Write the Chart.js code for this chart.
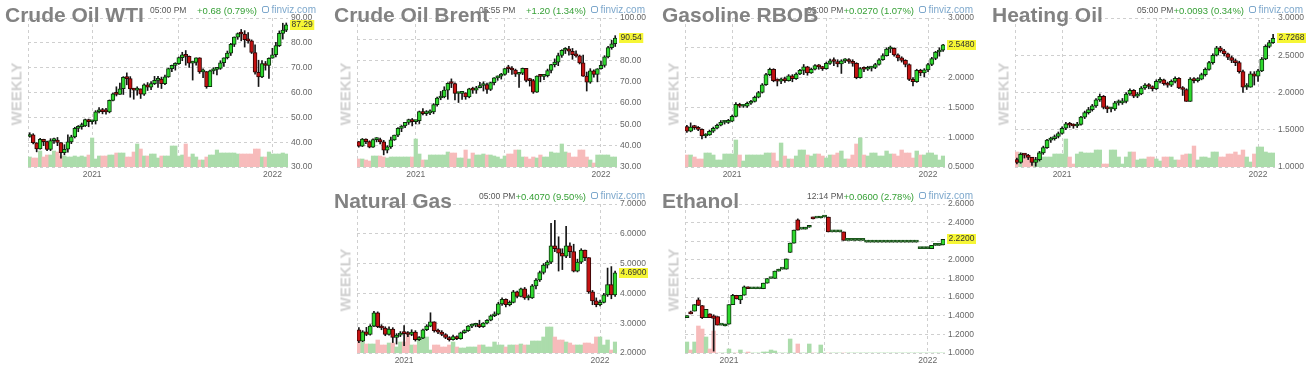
<!DOCTYPE html>
<html>
<head>
<meta charset="utf-8">
<title>Futures - weekly</title>
<script src="https://cdn.jsdelivr.net/npm/chart.js@4.4.1/dist/chart.umd.min.js"></script>
<style>
  body { margin: 0; background: #fff; }
  #board { position: relative; width: 1311px; height: 370px; overflow: hidden; font-family: Arial, "Liberation Sans", sans-serif; }
  .panel { position: absolute; width: 326px; height: 184px; }
  .panel canvas { position: absolute; left: 0; top: 0; }
  .ttl { position: absolute; left: 5px; top: 4px; font-size: 21px; line-height: 21px; font-weight: bold; color: #828282; white-space: nowrap; z-index: 3; }
  .tm { position: absolute; left: 150px; top: 5px; font-size: 8.5px; line-height: 10px; color: #555; white-space: nowrap; z-index: 2; }
  .chg { position: absolute; right: 69px; top: 5px; font-size: 9.5px; line-height: 11px; color: #36a036; white-space: nowrap; z-index: 2; }
  .fv { position: absolute; right: 10px; top: 4px; font-size: 10px; line-height: 11px; color: #7ea8cc; white-space: nowrap; z-index: 2; }
  .fv i { display: inline-block; width: 5px; height: 5px; border: 1px solid #7ea8cc; border-radius: 2px; margin-right: 3px; }
  .wk { position: absolute; left: 16px; top: 94px; transform: translate(-50%, -50%) rotate(-90deg); font-size: 15px; font-weight: bold; color: #d0d0d0; white-space: nowrap; }
</style>
</head>
<body>
<div id="board"></div>
<script>
// weekly candles, last week starts 2022-01-24
const lastWeek = '2022-01-24';
const yearTicks = { '2020-12-28': '2021', '2021-06-21': '', '2021-12-27': '2022' };

// Crude Oil WTI
const wtiOpen0 = 42.3;
const wtiClose = [42.97, 39.77, 37.33, 41.11, 40.25, 37.05, 40.60, 40.88, 39.85, 35.79,
  37.14, 40.13, 42.15, 45.53, 46.26, 46.57, 49.10, 48.23, 48.52, 52.24,
  52.36, 52.27, 52.20, 56.85, 59.47, 59.24, 61.50, 66.09, 65.61, 61.42,
  60.97, 61.45, 59.32, 63.13, 62.14, 63.58, 64.90, 65.37, 63.58, 66.32,
  69.62, 70.91, 71.64, 74.05, 75.16, 74.56, 71.81, 72.07, 73.95, 68.28,
  68.44, 62.32, 68.74, 69.29, 69.72, 71.97, 73.98, 75.88, 79.35, 82.28,
  83.76, 83.57, 81.27, 80.79, 76.10, 68.15, 66.26, 71.67, 70.86, 73.79,
  75.21, 78.90, 83.82, 85.14, 87.29];
const wtiHigh = [43.8, 43.4, 38.5, 41.5, 41.2, 40.4, 41.4, 41.6, 41.9, 39.8,
  39.0, 43.0, 42.8, 46.0, 46.7, 47.7, 49.3, 49.3, 48.9, 52.7,
  53.9, 53.6, 53.6, 57.0, 59.8, 62.3, 63.8, 66.4, 67.9, 66.4,
  61.7, 62.3, 61.3, 63.5, 64.0, 64.4, 66.5, 66.5, 66.2, 67.0,
  69.8, 71.0, 72.0, 74.3, 76.2, 76.9, 74.7, 72.6, 74.0, 74.0,
  69.5, 68.4, 69.0, 70.0, 70.0, 72.8, 74.0, 76.7, 79.8, 82.4,
  84.0, 85.4, 84.9, 84.1, 81.2, 79.2, 73.0, 72.9, 72.5, 74.0,
  77.8, 80.2, 84.8, 87.9, 88.0];
const wtiLow = [42.0, 39.3, 36.1, 37.2, 38.6, 36.6, 36.6, 39.5, 38.6, 33.6,
  34.9, 36.0, 39.4, 41.7, 44.2, 45.2, 46.3, 46.2, 47.2, 47.3,
  51.8, 51.4, 51.3, 51.8, 56.6, 58.6, 59.2, 59.2, 63.1, 58.1,
  57.3, 58.9, 57.6, 58.8, 60.8, 61.1, 63.2, 62.0, 61.6, 63.2,
  66.1, 68.4, 69.0, 71.3, 72.8, 71.0, 70.1, 65.0, 71.0, 67.7,
  66.0, 61.7, 62.3, 67.5, 67.1, 69.3, 70.5, 73.5, 74.9, 78.5,
  81.4, 80.8, 78.3, 79.9, 75.7, 67.4, 62.4, 66.0, 69.0, 65.7,
  73.8, 74.3, 78.5, 81.5, 84.5];
const wtiVol = [10, 9, 9, 16, 10, 12, 12, 16, 15, 11, 11, 10, 10, 11, 10, 11, 10, 12, 29, 8,
  11, 11, 11, 12, 12, 14, 14, 14, 10, 10, 15, 23, 18, 11, 11, 13, 13, 9, 11, 11,
  11, 21, 21, 11, 12, 23, 10, 13, 10, 7, 7, 10, 12, 12, 17, 14, 14, 14, 14, 14,
  13, 13, 13, 13, 13, 18, 18, 10, 10, 15, 13, 13, 13, 14, 13];

// Crude Oil Brent
const brentOpen0 = 41.9;
const brentClose = [39.83, 43.15, 41.92, 39.27, 42.85, 42.93, 41.77, 37.94, 39.45, 42.78,
  44.96, 48.18, 49.25, 50.97, 52.26, 51.29, 51.80, 55.99, 55.10, 55.41,
  55.88, 59.34, 62.43, 62.91, 66.13, 69.36, 69.22, 64.53, 64.57, 64.86,
  62.95, 66.77, 66.11, 67.25, 68.28, 68.71, 66.44, 69.63, 71.89, 72.69,
  73.51, 76.18, 76.17, 75.55, 73.59, 74.10, 76.33, 70.70, 70.59, 65.18,
  72.70, 72.61, 72.92, 75.34, 78.09, 79.28, 82.39, 84.86, 85.53, 84.38,
  82.74, 82.17, 78.89, 72.72, 69.88, 75.15, 73.52, 76.14, 77.78, 81.75,
  86.06, 87.89, 90.54];
const brentHigh = [42.0, 43.4, 43.2, 42.3, 43.2, 43.8, 43.6, 42.5, 40.0, 44.0,
  45.0, 48.5, 49.5, 51.0, 52.5, 52.8, 52.0, 56.3, 57.4, 56.5,
  56.8, 59.8, 62.8, 65.5, 67.7, 69.6, 71.4, 69.5, 65.1, 65.6,
  64.9, 67.0, 67.5, 67.9, 69.8, 70.0, 69.4, 69.8, 72.0, 72.8,
  74.0, 76.3, 77.8, 77.2, 76.0, 74.5, 76.5, 76.3, 71.7, 71.2,
  72.8, 73.3, 73.5, 76.0, 78.2, 80.8, 83.5, 85.1, 86.1, 86.7,
  85.7, 84.6, 82.6, 82.6, 74.6, 76.2, 75.7, 76.2, 79.8, 82.3,
  86.7, 89.5, 91.7];
const brentLow = [39.3, 39.6, 41.0, 39.0, 39.2, 41.8, 40.9, 35.7, 36.6, 38.7,
  42.5, 44.3, 46.6, 48.5, 50.0, 49.3, 50.2, 50.4, 54.5, 54.2,
  54.6, 55.0, 58.6, 61.6, 62.5, 61.8, 67.3, 61.5, 60.3, 61.7,
  61.8, 62.5, 64.6, 64.6, 67.1, 65.7, 64.6, 65.9, 68.6, 70.7,
  71.3, 73.1, 74.4, 73.5, 72.5, 67.4, 73.4, 70.0, 68.0, 64.6,
  65.0, 70.0, 71.0, 72.3, 74.2, 77.0, 77.6, 81.5, 83.3, 82.5,
  80.6, 81.6, 78.4, 72.5, 65.7, 69.3, 72.2, 70.0, 76.0, 76.9,
  81.2, 85.3, 86.6];
const brentVol = [8, 8, 7, 6, 11, 11, 11, 10, 9, 10, 10, 10, 10, 10, 10, 10, 28, 13, 7, 7,
  12, 12, 12, 12, 12, 15, 14, 14, 9, 9, 17, 8, 14, 12, 12, 13, 12, 12, 11, 10,
  8, 11, 13, 13, 17, 17, 10, 10, 8, 10, 9, 12, 10, 10, 15, 14, 14, 23, 15, 14,
  10, 10, 17, 17, 10, 7, 4, 12, 12, 12, 12, 10, 10];

// Gasoline RBOB
const gasOpen0 = 1.18;
const gasClose = [1.10, 1.17, 1.16, 1.13, 1.02, 1.04, 1.10, 1.15, 1.20, 1.25,
  1.25, 1.27, 1.35, 1.55, 1.52, 1.52, 1.57, 1.60, 1.67, 1.75,
  1.88, 2.05, 2.14, 1.95, 1.94, 1.97, 1.95, 2.03, 1.98, 2.06,
  2.12, 2.18, 2.08, 2.14, 2.20, 2.18, 2.15, 2.24, 2.28, 2.27,
  2.23, 2.28, 2.30, 2.27, 2.24, 2.00, 2.15, 2.14, 2.16, 2.17,
  2.22, 2.30, 2.37, 2.48, 2.49, 2.38, 2.33, 2.29, 2.22, 1.97,
  1.93, 2.12, 2.08, 2.13, 2.22, 2.32, 2.43, 2.46, 2.548];
const gasHigh = [1.20, 1.24, 1.20, 1.18, 1.14, 1.06, 1.12, 1.17, 1.22, 1.28,
  1.28, 1.30, 1.37, 1.58, 1.57, 1.55, 1.59, 1.62, 1.69, 1.77,
  1.90, 2.07, 2.16, 2.15, 1.98, 1.99, 2.01, 2.05, 2.05, 2.08,
  2.14, 2.22, 2.19, 2.16, 2.22, 2.22, 2.19, 2.26, 2.31, 2.33,
  2.30, 2.30, 2.32, 2.32, 2.30, 2.25, 2.17, 2.18, 2.19, 2.19,
  2.24, 2.32, 2.40, 2.50, 2.53, 2.50, 2.40, 2.35, 2.30, 2.23,
  2.00, 2.14, 2.14, 2.15, 2.24, 2.34, 2.44, 2.50, 2.56];
const gasLow = [1.08, 1.09, 1.13, 1.11, 0.97, 0.99, 1.03, 1.08, 1.14, 1.19,
  1.22, 1.23, 1.26, 1.34, 1.50, 1.50, 1.50, 1.55, 1.59, 1.66,
  1.74, 1.87, 2.03, 1.93, 1.86, 1.90, 1.92, 1.94, 1.93, 1.97,
  2.05, 2.05, 2.04, 2.07, 2.13, 2.14, 2.12, 2.14, 2.22, 2.20,
  2.18, 2.07, 2.25, 2.24, 2.19, 1.98, 1.99, 2.10, 2.12, 2.11,
  2.15, 2.21, 2.29, 2.36, 2.42, 2.36, 2.28, 2.26, 2.18, 1.95,
  1.86, 1.92, 2.03, 2.01, 2.10, 2.20, 2.30, 2.36, 2.44];
const gasVol = [12, 12, 10, 8, 8, 14, 14, 12, 7, 7, 13, 13, 13, 27, 12, 6, 12, 12, 12, 12,
  12, 14, 14, 14, 6, 24, 11, 8, 8, 11, 17, 17, 12, 11, 13, 13, 11, 9, 12, 12,
  14, 16, 8, 8, 12, 23, 29, 12, 11, 14, 14, 11, 11, 16, 13, 13, 11, 17, 14, 14,
  9, 16, 12, 12, 14, 14, 12, 7, 11];

// Heating Oil
const heatOpen0 = 1.10;
const heatClose = [1.06, 1.17, 1.16, 1.13, 1.06, 1.10, 1.19, 1.26, 1.36, 1.38,
  1.41, 1.45, 1.52, 1.58, 1.56, 1.55, 1.57, 1.67, 1.73, 1.77,
  1.82, 1.90, 1.95, 1.80, 1.78, 1.78, 1.86, 1.86, 1.88, 1.98,
  2.03, 1.95, 1.98, 2.06, 2.10, 2.08, 2.05, 2.15, 2.17, 2.12,
  2.10, 2.15, 2.19, 2.06, 2.04, 1.88, 2.18, 2.16, 2.18, 2.24,
  2.31, 2.40, 2.50, 2.60, 2.56, 2.52, 2.47, 2.43, 2.40, 2.28,
  2.07, 2.07, 2.25, 2.22, 2.29, 2.45, 2.62, 2.67, 2.7268];
const heatHigh = [1.12, 1.19, 1.18, 1.17, 1.13, 1.13, 1.21, 1.28, 1.37, 1.40,
  1.43, 1.47, 1.54, 1.60, 1.60, 1.58, 1.60, 1.68, 1.75, 1.80,
  1.84, 1.92, 1.98, 1.96, 1.82, 1.80, 1.88, 1.90, 1.92, 2.00,
  2.05, 2.04, 2.00, 2.08, 2.12, 2.12, 2.09, 2.17, 2.20, 2.18,
  2.14, 2.17, 2.21, 2.20, 2.08, 2.05, 2.20, 2.20, 2.20, 2.26,
  2.33, 2.42, 2.52, 2.62, 2.62, 2.58, 2.53, 2.49, 2.45, 2.42,
  2.30, 2.12, 2.28, 2.28, 2.31, 2.47, 2.64, 2.70, 2.78];
const heatLow = [1.04, 1.05, 1.12, 1.10, 1.02, 1.01, 1.08, 1.17, 1.25, 1.33,
  1.36, 1.39, 1.44, 1.50, 1.53, 1.52, 1.53, 1.56, 1.65, 1.71,
  1.75, 1.80, 1.88, 1.78, 1.73, 1.74, 1.76, 1.83, 1.84, 1.86,
  1.96, 1.93, 1.93, 1.97, 2.04, 2.05, 2.02, 2.04, 2.13, 2.10,
  2.07, 2.08, 2.13, 2.05, 1.96, 1.88, 1.88, 2.13, 2.14, 2.17,
  2.22, 2.30, 2.38, 2.49, 2.54, 2.49, 2.44, 2.40, 2.36, 2.26,
  2.00, 2.04, 2.07, 2.10, 2.15, 2.28, 2.44, 2.60, 2.66];
const heatVol = [15, 14, 12, 10, 10, 7, 15, 10, 10, 10, 13, 13, 13, 28, 10, 3, 13, 15, 14, 14,
  14, 17, 17, 3, 3, 17, 17, 10, 3, 10, 15, 15, 7, 8, 8, 10, 10, 8, 6, 10,
  10, 10, 7, 7, 12, 13, 13, 21, 7, 10, 10, 9, 15, 15, 10, 10, 13, 13, 15, 12,
  17, 10, 5, 13, 20, 20, 15, 14, 14];

// Natural Gas
const ngOpen0 = 2.78;
const ngClose = [2.40, 2.71, 2.62, 2.90, 3.35, 2.88, 2.84, 2.62, 2.80, 2.52,
  2.60, 2.66, 2.65, 2.62, 2.70, 2.45, 2.50, 2.78, 2.90, 3.05,
  2.75, 2.70, 2.62, 2.52, 2.45, 2.55, 2.48, 2.68, 2.75, 2.90,
  2.93, 2.95, 2.88, 3.00, 3.10, 3.25, 3.30, 3.65, 3.80, 3.62,
  3.70, 4.05, 3.90, 4.15, 3.85, 3.85, 4.25, 4.45, 4.70, 4.95,
  5.05, 5.60, 5.50, 5.35, 5.25, 5.60, 5.40, 4.75, 5.05, 5.45,
  5.20, 4.05, 3.75, 3.62, 3.70, 3.95, 4.30, 3.95, 4.69];
const ngHigh = [2.85, 2.75, 2.86, 2.95, 3.40, 3.38, 2.95, 2.88, 2.88, 2.85,
  2.65, 2.72, 2.92, 2.72, 2.78, 2.75, 2.55, 2.80, 2.95, 3.35,
  3.05, 2.80, 2.75, 2.65, 2.55, 2.60, 2.58, 2.70, 2.78, 2.92,
  2.97, 3.00, 3.10, 3.02, 3.12, 3.28, 3.38, 3.70, 3.85, 3.82,
  3.75, 4.10, 4.08, 4.18, 4.20, 3.95, 4.30, 4.50, 4.75, 5.00,
  5.10, 6.35, 6.45, 5.90, 5.50, 6.25, 5.70, 5.65, 5.15, 5.50,
  5.45, 5.20, 4.10, 3.85, 3.78, 4.00, 4.85, 4.90, 4.75];
const ngLow = [2.35, 2.38, 2.58, 2.60, 2.88, 2.85, 2.78, 2.58, 2.60, 2.35,
  2.30, 2.55, 2.25, 2.55, 2.58, 2.40, 2.42, 2.48, 2.75, 2.88,
  2.70, 2.65, 2.58, 2.48, 2.40, 2.43, 2.45, 2.46, 2.66, 2.72,
  2.85, 2.88, 2.85, 2.86, 2.98, 3.08, 3.22, 3.28, 3.60, 3.55,
  3.58, 3.68, 3.85, 3.88, 3.80, 3.78, 3.83, 4.15, 4.40, 4.65,
  4.85, 5.00, 5.40, 4.75, 4.80, 5.20, 5.20, 4.72, 4.72, 5.00,
  5.10, 4.00, 3.62, 3.55, 3.58, 3.68, 3.90, 3.82, 3.90];
const ngVol = [11, 11, 9, 9, 9, 13, 8, 8, 10, 10, 6, 11, 11, 18, 8, 8, 16, 16, 16, 3,
  8, 8, 6, 6, 8, 11, 6, 5, 5, 6, 6, 6, 8, 8, 6, 6, 11, 8, 8, 6,
  8, 8, 8, 9, 8, 8, 12, 12, 12, 16, 26, 26, 16, 13, 13, 11, 10, 8, 8, 8,
  10, 10, 9, 16, 16, 8, 13, 3, 11];

// Ethanol (thin market, gaps between weeks)
const ethOpen = [1.38, 1.44, 1.45, 1.57, 1.51, 1.38, 1.42, 1.40, 1.39, 1.30,
  1.29, 1.31, 1.52, 1.62, 1.57, 1.62, 1.71, 1.69, 1.69, 1.69,
  1.69, 1.75, 1.80, 1.80, 1.88, 1.90, 1.90, 2.08, 2.18, 2.43,
  2.33, 2.33, 2.35, 2.46, 2.45, 2.45, 2.46, 2.46, 2.30, 2.30,
  2.30, 2.30, 2.21, 2.21, 2.21, 2.21, 2.21, 2.19, 2.19, 2.19,
  2.19, 2.19, 2.19, 2.19, 2.19, 2.19, 2.19, 2.19, 2.19, 2.19,
  2.19, 2.12, 2.12, 2.12, 2.12, 2.155, 2.155, 2.16];
const ethClose = [1.40, 1.42, 1.52, 1.51, 1.38, 1.47, 1.38, 1.37, 1.30, 1.30,
  1.31, 1.52, 1.62, 1.58, 1.62, 1.71, 1.69, 1.69, 1.69, 1.69,
  1.75, 1.80, 1.80, 1.88, 1.90, 1.90, 2.01, 2.18, 2.32, 2.32,
  2.33, 2.35, 2.36, 2.44, 2.45, 2.46, 2.46, 2.30, 2.30, 2.30,
  2.30, 2.21, 2.21, 2.21, 2.21, 2.21, 2.21, 2.19, 2.19, 2.19,
  2.19, 2.19, 2.19, 2.19, 2.19, 2.19, 2.19, 2.19, 2.19, 2.19,
  2.19, 2.12, 2.12, 2.12, 2.155, 2.155, 2.155, 2.22];
const ethHigh = [null, 1.45, null, 1.59, null, null, null, 1.41, null, null,
  null, null, 1.63, null, null, 1.72, null, null, null, null,
  null, null, null, null, null, null, null, null, null, 2.44,
  null, null, null, null, null, null, null, null, null, null,
  null, null, null, null, null, null, null, null, null, null,
  null, null, null, null, null, null, null, null, null, null,
  null, null, null, null, null, null, null, null];
const ethLow = [null, null, null, null, 1.37, null, null, 1.02, null, null,
  null, null, null, null, 1.53, null, null, null, null, null,
  null, null, null, null, null, null, null, null, null, null,
  null, null, null, null, null, null, null, null, null, null,
  null, null, null, null, null, null, null, null, null, null,
  null, null, null, null, null, null, null, null, null, null,
  null, null, null, null, null, null, null, null];
const ethVol = [11, 3, 11, 27, 24, 16, 4, 22, 0, 0, 0, 4, 0, 0, 3, 0, 1, 0, 0, 0,
  1, 1, 3, 2, 0, 0, 0, 14, 0, 9, 0, 0, 9, 0, 0, 8, 0, 0, 0, 0,
  0, 0, 0, 0, 0, 0, 0, 0, 0, 0, 0, 0, 0, 0, 0, 0, 0, 0, 0, 0,
  0, 0, 0, 0, 0, 0, 0, 0];

const panels = [
  { name: 'Crude Oil WTI', time: '05:00 PM', change: '+0.68 (0.79%)', x: 0, y: 0,
    open0: wtiOpen0, close: wtiClose, high: wtiHigh, low: wtiLow, vol: wtiVol, min: 30, max: 90, step: 10, dec: 2, bar: 3.9 },
  { name: 'Crude Oil Brent', time: '05:55 PM', change: '+1.20 (1.34%)', x: 329, y: 0,
    open0: brentOpen0, close: brentClose, high: brentHigh, low: brentLow, vol: brentVol, min: 30, max: 100, step: 10, dec: 2, bar: 3.9 },
  { name: 'Gasoline RBOB', time: '05:00 PM', change: '+0.0270 (1.07%)', x: 657, y: 0,
    open0: gasOpen0, close: gasClose, high: gasHigh, low: gasLow, vol: gasVol, min: 0.5, max: 3, step: 0.5, dec: 4, bar: 4.2 },
  { name: 'Heating Oil', time: '05:00 PM', change: '+0.0093 (0.34%)', x: 987, y: 0,
    open0: heatOpen0, close: heatClose, high: heatHigh, low: heatLow, vol: heatVol, min: 1, max: 3, step: 0.5, dec: 4, bar: 4.2 },
  { name: 'Natural Gas', time: '05:00 PM', change: '+0.4070 (9.50%)', x: 329, y: 186,
    open0: ngOpen0, close: ngClose, high: ngHigh, low: ngLow, vol: ngVol, min: 2, max: 7, step: 1, dec: 4, bar: 4.2 },
  { name: 'Ethanol', time: '12:14 PM', change: '+0.0600 (2.78%)', x: 657, y: 186,
    open: ethOpen, close: ethClose, high: ethHigh, low: ethLow, vol: ethVol, min: 1, max: 2.6, step: 0.2, dec: 4, bar: 4.3 }
];

Chart.defaults.font.family = 'Arial, "Liberation Sans", sans-serif';
Chart.defaults.font.size = 8.5;
Chart.defaults.color = '#666';

function weekLabels(n) {
  const end = Date.parse(lastWeek + 'T00:00:00Z');
  const out = [];
  for (let i = n - 1; i >= 0; i--) {
    out.push(new Date(end - i * 7 * 86400000).toISOString().slice(0, 10));
  }
  return out;
}

// dashed line on the left edge of the plot
const edgeLine = {
  id: 'edgeLine',
  beforeDatasetsDraw(chart) {
    const { ctx, chartArea: a } = chart;
    const x = Math.round(a.left) + 0.5;
    ctx.save();
    ctx.strokeStyle = '#cfcfcf';
    ctx.lineWidth = 1;
    ctx.setLineDash([3, 3]);
    ctx.beginPath();
    ctx.moveTo(x, a.top);
    ctx.lineTo(x, a.bottom);
    ctx.stroke();
    ctx.restore();
  }
};

// yellow box with the last price on the axis
const lastPrice = {
  id: 'lastPrice',
  afterDraw(chart, args, opts) {
    const { ctx, chartArea: a, scales } = chart;
    const y = scales.y.getPixelForValue(opts.value);
    const t = opts.value.toFixed(opts.dec);
    ctx.save();
    ctx.font = '8.5px Arial, "Liberation Sans", sans-serif';
    const w = ctx.measureText(t).width;
    ctx.fillStyle = '#f6f635';
    ctx.fillRect(a.right + 2, Math.round(y) - 5, w + 3, 10);
    ctx.fillStyle = '#333';
    ctx.textBaseline = 'middle';
    ctx.fillText(t, a.right + 3.5, Math.round(y));
    ctx.restore();
  }
};

const board = document.getElementById('board');

panels.forEach(p => {
  const div = document.createElement('div');
  div.className = 'panel';
  div.style.left = p.x + 'px';
  div.style.top = p.y + 'px';
  div.innerHTML = '<canvas width="326" height="184" style="width:326px;height:184px"></canvas>' +
    '<div class="wk">WEEKLY</div>' +
    '<div class="tm">' + p.time + '</div>' +
    '<div class="chg">' + p.change + '</div>' +
    '<div class="fv"><i></i>finviz.com</div>' +
    '<div class="ttl">' + p.name + '</div>';
  board.appendChild(div);

  const n = p.close.length;
  const labels = weekLabels(n);
  const open = p.open || p.close.map((c, i) => i ? p.close[i - 1] : p.open0);
  const up = p.close.map((c, i) => c >= open[i]);
  const flat = p.close.map((c, i) => c === open[i]);
  const wick = p.close.map((c, i) => [
    Math.min(p.low[i] ?? c, c, open[i]),
    Math.max(p.high[i] ?? c, c, open[i])
  ]);
  const body = p.close.map((c, i) => [open[i], c]);

  new Chart(div.querySelector('canvas'), {
    type: 'bar',
    data: {
      labels: labels,
      datasets: [
        {
          data: p.vol,
          yAxisID: 'yv',
          backgroundColor: up.map(u => u ? '#abdcab' : '#f7bbbb'),
          barPercentage: 1,
          categoryPercentage: 1,
          grouped: false,
          order: 3
        },
        {
          data: wick,
          yAxisID: 'y',
          backgroundColor: '#151515',
          barThickness: 1,
          grouped: false,
          order: 2
        },
        {
          data: body,
          yAxisID: 'y',
          backgroundColor: up.map((u, i) => flat[i] ? '#1d5a1d' : (u ? '#2ed82e' : '#c41212')),
          borderColor: up.map((u, i) => flat[i] ? '#1d5a1d' : (u ? '#0d300d' : '#300505')),
          borderWidth: 1,
          borderSkipped: false,
          barThickness: p.bar,
          minBarLength: 2,
          grouped: false,
          order: 1
        }
      ]
    },
    options: {
      responsive: false,
      animation: false,
      events: [],
      layout: { padding: { left: 28, top: 18, right: 0, bottom: 0 } },
      plugins: {
        legend: { display: false },
        tooltip: { enabled: false },
        lastPrice: { value: p.close[n - 1], dec: p.dec }
      },
      scales: {
        x: {
          offset: true,
          grid: {
            offset: false,
            drawTicks: false,
            color: c => (labels[c.index] in yearTicks) ? '#cfcfcf' : 'rgba(0,0,0,0)'
          },
          border: { display: false, dash: [3, 3] },
          ticks: {
            autoSkip: false,
            maxRotation: 0,
            minRotation: 0,
            padding: 3,
            color: '#666',
            callback: (v, i) => yearTicks[labels[i]] || ''
          },
          afterFit: s => { s.height = 17; }
        },
        y: {
          position: 'right',
          min: p.min,
          max: p.max,
          grid: { color: '#cfcfcf', drawTicks: false },
          border: { display: false, dash: [3, 3] },
          ticks: {
            stepSize: p.step,
            padding: 3,
            color: '#666',
            callback: v => v.toFixed(p.dec)
          },
          afterFit: s => { s.width = 38; }
        },
        yv: { display: false, min: 0, max: 149 }
      }
    },
    plugins: [edgeLine, lastPrice]
  });
});
</script>
</body>
</html>
